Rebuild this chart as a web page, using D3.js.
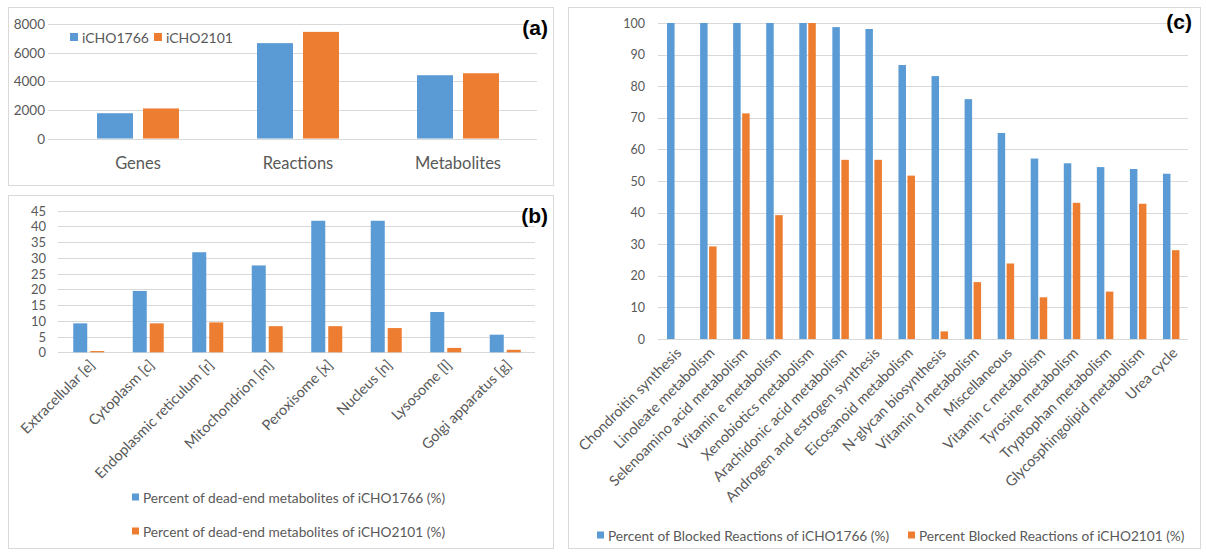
<!DOCTYPE html>
<html><head><meta charset="utf-8">
<script src="https://cdn.jsdelivr.net/npm/d3@7"></script>
<style>
body{margin:0;background:#fff;}
svg{display:block;}
text{font-family:Lato,"Open Sans",sans-serif;}
</style></head>
<body><svg id="c" width="1206" height="552"></svg>
<script>
// ---------- data ----------
const seriesA = ["iCHO1766", "iCHO2101"];
const catsA = ["Genes", "Reactions", "Metabolites"];
const valsA1766 = [1766, 6663, 4420];
const valsA2101 = [2101, 7450, 4560];
const ticksA = [0, 2000, 4000, 6000, 8000];

const catsB = ["Extracellular [e]", "Cytoplasm [c]", "Endoplasmic reticulum [r]", "Mitochondrion [m]",
  "Peroxisome [x]", "Nucleus [n]", "Lysosome [l]", "Golgi apparatus [g]"];
const valsB1766 = [9.2, 19.5, 31.8, 27.6, 41.8, 41.8, 12.8, 5.6];
const valsB2101 = [0.4, 9.2, 9.5, 8.3, 8.3, 7.7, 1.4, 0.8];
const ticksB = [0, 5, 10, 15, 20, 25, 30, 35, 40, 45];
const legendB = ["Percent of dead-end metabolites of iCHO1766 (%)", "Percent of dead-end metabolites of iCHO2101 (%)"];

const catsC = ["Chondroitin synthesis", "Linoleate metabolism", "Selenoamino acid metabolism", "Vitamin e metabolism",
  "Xenobiotics metabolism", "Arachidonic acid metabolism", "Androgen and estrogen synthesis", "Eicosanoid metabolism",
  "N-glycan biosynthesis", "Vitamin d metabolism", "Miscellaneous", "Vitamin c metabolism", "Tyrosine metabolism",
  "Tryptophan metabolism", "Glycosphingolipid metabolism", "Urea cycle"];
const valsC1766 = [100, 100, 100, 100, 100, 98.7, 98.1, 86.7, 83.2, 75.9, 65.2, 57.1, 55.6, 54.4, 53.8, 52.3];
const valsC2101 = [0, 29.3, 71.4, 39.2, 100, 56.7, 56.7, 51.7, 2.4, 18.0, 23.9, 13.2, 43.1, 15.0, 42.8, 28.1];
const ticksC = [0, 10, 20, 30, 40, 50, 60, 70, 80, 90, 100];
const legendC = ["Percent of Blocked Reactions of iCHO1766 (%)", "Percent Blocked Reactions of iCHO2101 (%)"];

// ---------- style ----------
const BLUE = "#5B9BD5", ORANGE = "#ED7D31", GRID = "#D9D9D9", TXT = "#595959";
const colors = [BLUE, ORANGE];
const svg = d3.select("#c");

function box(x0, y0, x1, y1) {
  svg.append("rect").attr("x", x0 + 0.5).attr("y", y0 + 0.5).attr("width", x1 - x0).attr("height", y1 - y0)
    .attr("fill", "#fff").attr("stroke", GRID).attr("stroke-width", 1);
}
function panelLabel(t, x, y) {
  svg.append("text").attr("x", x).attr("y", y).attr("text-anchor", "end")
    .attr("dominant-baseline", "central")
    .style("font-family", "'Liberation Sans',Arial,sans-serif").style("font-weight", "bold")
    .style("font-size", "21px").attr("fill", "#000").text(t);
}
function yAxisGrid(g, y, ticks, gx0, gx1, labelX, fs, fmt) {
  g.append("g").selectAll("line").data(ticks).join("line")
    .attr("x1", gx0).attr("x2", gx1)
    .attr("y1", d => Math.round(y(d)) + 0.5).attr("y2", d => Math.round(y(d)) + 0.5)
    .attr("stroke", GRID).attr("stroke-width", 1);
  g.append("g").selectAll("text").data(ticks).join("text")
    .attr("x", labelX).attr("y", d => y(d)).attr("text-anchor", "end").attr("dominant-baseline", "central")
    .style("font-size", fs + "px").attr("fill", TXT).text(d => fmt ? fmt(d) : d);
}
function bars(g, cats, series, x0, x1, y) {
  cats.forEach((c, i) => {
    series.forEach((vals, s) => {
      const v = vals[i];
      if (v <= 0) return;
      g.append("rect")
        .attr("x", x0(c) + x0.bandwidth() / 2 + x1(s))
        .attr("width", x1.bandwidth())
        .attr("y", y(v)).attr("height", y(0) - y(v))
        .attr("fill", colors[s]);
    });
  });
}

// ---------- panel (a) ----------
box(8, 7, 553, 185);
{
  const g = svg.append("g");
  const y = d3.scaleLinear().domain([0, 8000]).range([138.5, 24]);
  const x0 = d3.scaleBand().domain(catsA).range([58, 538]);
  const x1 = d3.scaleBand().domain([0, 1]).range([-41, 41]).paddingInner(0.2174);
  yAxisGrid(g, y, ticksA, 48, 537, 45, 13.5);
  bars(g, catsA, [valsA1766, valsA2101], x0, x1, y);
  g.append("g").selectAll("text").data(catsA).join("text")
    .attr("x", d => x0(d) + x0.bandwidth() / 2).attr("y", 163).attr("text-anchor", "middle")
    .attr("dominant-baseline", "central").style("font-size", "16.5px").attr("fill", TXT).text(d => d);
  // legend
  const lx = [70, 154];
  seriesA.forEach((s, i) => {
    g.append("rect").attr("x", lx[i]).attr("y", 33).attr("width", 8).attr("height", 8).attr("fill", colors[i]);
    g.append("text").attr("x", lx[i] + 12).attr("y", 37).attr("dominant-baseline", "central")
      .style("font-size", "14px").attr("fill", TXT).text(s);
  });
  panelLabel("(a)", 548, 27);
}

// ---------- panel (b) ----------
box(8, 195, 553, 548);
{
  const g = svg.append("g");
  const y = d3.scaleLinear().domain([0, 45]).range([352.3, 210.7]);
  const x0 = d3.scaleBand().domain(catsB).range([59, 535]);
  const x1 = d3.scaleBand().domain([0, 1]).range([-15.5, 15.5]).paddingInner(0.176);
  yAxisGrid(g, y, ticksB, 58, 535, 46, 13);
  bars(g, catsB, [valsB1766, valsB2101], x0, x1, y);
  g.append("g").selectAll("text").data(catsB).join("text")
    .attr("transform", d => `translate(${x0(d) + x0.bandwidth() / 2 + 3},${362}) rotate(-45)`)
    .attr("text-anchor", "end").attr("dominant-baseline", "central")
    .style("font-size", "14.5px").attr("fill", TXT).text(d => d);
  legendB.forEach((s, i) => {
    const yy = 497 + i * 34;
    g.append("rect").attr("x", 132).attr("y", yy - 3.5).attr("width", 7).attr("height", 7).attr("fill", colors[i]);
    g.append("text").attr("x", 143).attr("y", yy).attr("dominant-baseline", "central")
      .style("font-size", "13.7px").attr("fill", TXT).text(s);
  });
  panelLabel("(b)", 548, 215);
}

// ---------- panel (c) ----------
box(568, 7, 1200, 548);
{
  const g = svg.append("g");
  const y = d3.scaleLinear().domain([0, 100]).range([339, 23]);
  const x0 = d3.scaleBand().domain(catsC).range([659, 1188]);
  const x1 = d3.scaleBand().domain([0, 1]).range([-8.5, 8]).paddingInner(0.1667);
  yAxisGrid(g, y, ticksC, 658, 1188, 645, 12.5);
  bars(g, catsC, [valsC1766, valsC2101], x0, x1, y);
  g.append("g").selectAll("text").data(catsC).join("text")
    .attr("transform", d => `translate(${x0(d) + x0.bandwidth() / 2 + 3},${350}) rotate(-45)`)
    .attr("text-anchor", "end").attr("dominant-baseline", "central")
    .style("font-size", "14.5px").attr("fill", TXT).text(d => d);
  const lx = [597, 908];
  legendC.forEach((s, i) => {
    g.append("rect").attr("x", lx[i]).attr("y", 535 - 3.5).attr("width", 7).attr("height", 7).attr("fill", colors[i]);
    g.append("text").attr("x", lx[i] + 11).attr("y", 535).attr("dominant-baseline", "central")
      .style("font-size", "13.7px").attr("fill", TXT).text(s);
  });
  panelLabel("(c)", 1192, 21);
}
</script></body></html>
